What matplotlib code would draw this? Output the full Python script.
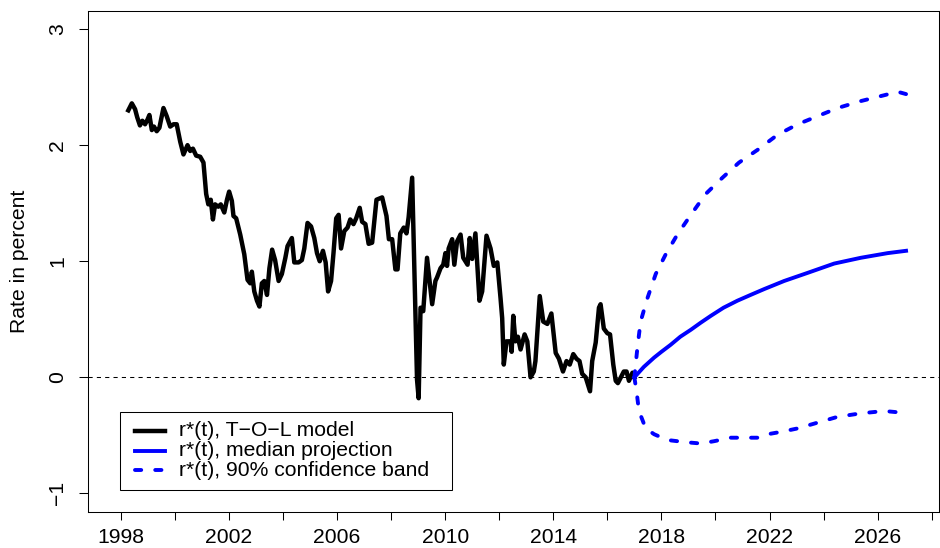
import matplotlib
matplotlib.use("Agg")
import matplotlib.pyplot as plt
from matplotlib.patches import Rectangle

plt.rcParams['font.family'] = ['Liberation Sans', 'DejaVu Sans']

# r*(t) estimate, T-O-L model
hist_years = [1998.28, 1998.41, 1998.53, 1998.61, 1998.71, 1998.80, 1998.90, 1998.99,
              1999.06, 1999.15, 1999.23, 1999.33, 1999.43, 1999.58, 1999.70, 1999.83,
              1999.95, 2000.07, 2000.20, 2000.32, 2000.47, 2000.57, 2000.67, 2000.79,
              2000.94, 2001.06, 2001.16, 2001.24, 2001.33, 2001.41, 2001.49, 2001.61,
              2001.70, 2001.83, 2001.93, 2002.01, 2002.11, 2002.17, 2002.27, 2002.42,
              2002.57, 2002.69, 2002.79, 2002.85, 2002.94, 2003.04, 2003.13, 2003.22,
              2003.31, 2003.41, 2003.50, 2003.60, 2003.71, 2003.84, 2003.96, 2004.09,
              2004.17, 2004.33, 2004.42, 2004.58, 2004.70, 2004.79, 2004.91, 2005.04,
              2005.16, 2005.26, 2005.36, 2005.48, 2005.58, 2005.67, 2005.78, 2005.87,
              2005.97, 2006.06, 2006.15, 2006.27, 2006.39, 2006.49, 2006.61, 2006.71,
              2006.84, 2006.93, 2007.05, 2007.17, 2007.30, 2007.46, 2007.67, 2007.83,
              2007.92, 2008.04, 2008.16, 2008.24, 2008.34, 2008.47, 2008.57, 2008.65,
              2008.78, 2008.96, 2009.02, 2009.09, 2009.19, 2009.33, 2009.52, 2009.64,
              2009.70, 2009.83, 2009.93, 2010.01, 2010.07, 2010.13, 2010.26, 2010.34,
              2010.44, 2010.57, 2010.67, 2010.83, 2010.91, 2011.00, 2011.12, 2011.27,
              2011.37, 2011.53, 2011.68, 2011.80, 2011.93, 2012.05, 2012.11, 2012.17,
              2012.27, 2012.42, 2012.46, 2012.52, 2012.60, 2012.69, 2012.79, 2012.94,
              2013.04, 2013.16, 2013.28, 2013.34, 2013.50, 2013.63, 2013.78, 2013.93,
              2014.09, 2014.21, 2014.36, 2014.49, 2014.61, 2014.74, 2014.86, 2014.97,
              2015.07, 2015.20, 2015.36, 2015.44, 2015.57, 2015.69, 2015.75, 2015.87,
              2016.00, 2016.10, 2016.22, 2016.31, 2016.39, 2016.52, 2016.61, 2016.71,
              2016.80, 2016.93, 2017.00]
hist_rate = [2.30, 2.36, 2.31, 2.24, 2.17, 2.21, 2.18, 2.22,
             2.26, 2.13, 2.16, 2.12, 2.15, 2.32, 2.25, 2.16,
             2.18, 2.18, 2.03, 1.92, 2.00, 1.95, 1.97, 1.91,
             1.90, 1.85, 1.58, 1.49, 1.53, 1.36, 1.49, 1.47,
             1.49, 1.42, 1.53, 1.60, 1.52, 1.39, 1.37, 1.23,
             1.06, 0.84, 0.81, 0.91, 0.74, 0.66, 0.61, 0.81,
             0.83, 0.71, 0.94, 1.10, 1.01, 0.83, 0.89, 1.03,
             1.13, 1.20, 0.99, 0.99, 1.01, 1.11, 1.33, 1.30,
             1.20, 1.07, 1.00, 1.09, 0.99, 0.74, 0.83, 1.07,
             1.37, 1.40, 1.11, 1.26, 1.29, 1.36, 1.32, 1.37,
             1.46, 1.34, 1.32, 1.15, 1.16, 1.53, 1.55, 1.39,
             1.19, 1.19, 0.93, 0.93, 1.24, 1.29, 1.24, 1.38,
             1.72, -0.02, -0.18, 0.60, 0.57, 1.03, 0.63, 0.83,
             0.86, 0.94, 0.97, 1.07, 0.96, 1.11, 1.19, 0.97,
             1.17, 1.23, 1.03, 0.97, 1.20, 1.02, 1.24, 0.66,
             0.74, 1.22, 1.11, 0.96, 0.99, 0.68, 0.51, 0.11,
             0.31, 0.31, 0.22, 0.53, 0.31, 0.35, 0.24, 0.37,
             0.31, 0.00, 0.05, 0.14, 0.70, 0.48, 0.46, 0.55,
             0.21, 0.16, 0.05, 0.14, 0.11, 0.20, 0.16, 0.14,
             0.03, 0.00, -0.12, 0.14, 0.30, 0.60, 0.63, 0.42,
             0.38, 0.37, 0.11, -0.03, -0.05, 0.01, 0.05, 0.05,
             -0.03, 0.04, 0.00]

# median projection
proj_years = [2017.00, 2017.35, 2017.73, 2018.00, 2018.34, 2018.70, 2019.09, 2019.45,
              2019.83, 2020.30, 2020.81, 2021.30, 2021.80, 2022.54, 2023.41, 2024.39,
              2025.38, 2026.37, 2027.05]
proj_median = [0.00, 0.09, 0.17, 0.22, 0.28, 0.35, 0.41, 0.47,
               0.53, 0.60, 0.66, 0.71, 0.76, 0.83, 0.90, 0.98,
               1.03, 1.07, 1.09]

# 90% confidence band
upper_years = [2017.00, 2017.11, 2017.23, 2017.48, 2017.79, 2018.16, 2018.59, 2019.09,
               2019.64, 2020.26, 2020.87, 2021.56, 2022.30, 2023.04, 2023.78, 2024.52,
               2025.38, 2026.24, 2026.74, 2027.05]
upper_band = [0.00, 0.25, 0.48, 0.68, 0.89, 1.06, 1.23, 1.40,
              1.58, 1.72, 1.85, 1.96, 2.09, 2.18, 2.25, 2.32,
              2.38, 2.43, 2.46, 2.44]
lower_years = [2017.00, 2017.08, 2017.17, 2017.42, 2017.73, 2018.22, 2018.96, 2019.46,
               2019.95, 2020.57, 2020.94, 2021.56, 2021.93, 2022.42, 2023.04, 2023.78,
               2024.52, 2025.38, 2026.24, 2026.70, 2027.05]
lower_band = [0.00, -0.12, -0.29, -0.44, -0.49, -0.54, -0.56, -0.57,
              -0.55, -0.52, -0.52, -0.52, -0.49, -0.47, -0.44, -0.39,
              -0.34, -0.31, -0.29, -0.30, -0.24]

x_ticks = list(range(1998, 2029, 2))
x_labels = [str(y) if (y - 1998) % 4 == 0 else '' for y in x_ticks]
y_ticks = [-1, 0, 1, 2, 3]
legend_labels = ['r*(t), T\u2212O\u2212L model',
                 'r*(t), median projection',
                 'r*(t), 90% confidence band']

FS = 15.2
W, H = 940, 548
fig = plt.figure(figsize=(W / 100, H / 100), dpi=100)
ax = fig.add_axes([88.3 / W, 1 - 512 / H, (939.3 - 88.3) / W, (512 - 10.5) / H])

dash_style = dict(color='blue', lw=2.8, dashes=(1.6, 3.6), dash_capstyle='round')

ax.axhline(0, color='black', lw=0.75, dashes=(4, 4))
ax.plot(hist_years, hist_rate, color='black', lw=3.2, solid_joinstyle='round')
ax.plot(proj_years, proj_median, color='blue', lw=2.8)
ax.plot(upper_years, upper_band, **dash_style)
ax.plot(lower_years, lower_band, **dash_style)

# legend box (R style)
ax.add_patch(Rectangle((0.0373, 0.0439), 0.427 - 0.0373, 0.1988 - 0.0439,
                       transform=ax.transAxes, facecolor='white',
                       edgecolor='black', lw=0.75, zorder=5))
rows = [0.1621, 0.1222, 0.0837]
styles = [dict(color='black', lw=3.2), dict(color='blue', lw=2.8), dash_style]
for ry, lab, st in zip(rows, legend_labels, styles):
    ax.plot([0.0545, 0.0897], [ry, ry], transform=ax.transAxes, zorder=6, **st)
    ax.text(0.1069, ry, lab, transform=ax.transAxes, va='center', ha='left',
            fontsize=FS, zorder=6)

ax.set_xlim(1996.80, 2028.28)
ax.set_ylim(-1.16, 3.16)
ax.set_xticks(x_ticks)
ax.set_xticklabels(x_labels)
ax.set_yticks(y_ticks)
ax.tick_params(axis='x', length=6, width=0.75, pad=5.5, labelsize=FS)
ax.tick_params(axis='y', length=6.5, width=0.75, pad=8.5, labelsize=FS, labelrotation=90)
for lbl in ax.get_yticklabels():
    lbl.set_va('center')
for sp in ax.spines.values():
    sp.set_linewidth(0.75)

fig.text(19.5 / W, 1 - 261 / H, 'Rate in percent', rotation=90,
         ha='center', va='center', fontsize=FS)

fig.savefig('out.png', dpi=100)
